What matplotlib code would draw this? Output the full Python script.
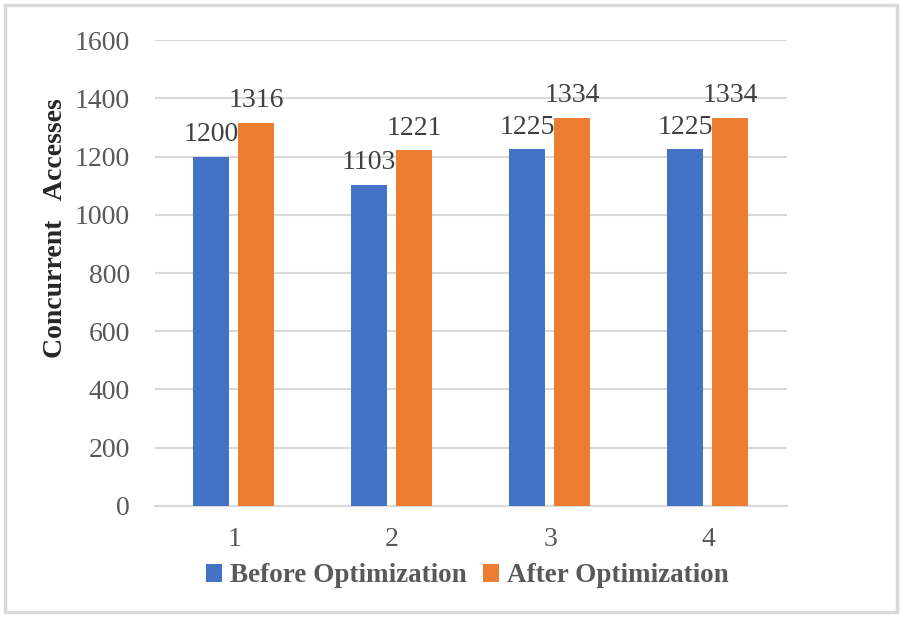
import matplotlib
matplotlib.use('Agg')
import matplotlib.pyplot as plt
import numpy as np
from matplotlib.patches import Rectangle

# data
groups = ['1', '2', '3', '4']
before = [1200, 1103, 1225, 1225]
after = [1316, 1221, 1334, 1334]
yticks = [0, 200, 400, 600, 800, 1000, 1200, 1400, 1600]

plt.rcParams['font.family'] = ['Liberation Serif', 'DejaVu Serif']

fig = plt.figure(figsize=(9.02, 6.17), dpi=100)
ax = fig.add_axes([0.172, 0.180, 0.7005, 0.755])

x = np.arange(len(groups))
w = 0.23
b1 = ax.bar(x - 0.145, before, w, color='#4472C4', label='Before Optimization', zorder=3)
b2 = ax.bar(x + 0.14, after, w, color='#ED7D31', label='After Optimization', zorder=3)

for bars in (b1, b2):
    ax.bar_label(bars, padding=7, fontsize=20, color='#404040')

ax.set_xlim(-0.5, 3.5)
ax.set_ylim(0, 1600)
ax.set_yticks(yticks)
ax.set_xticks(x)
ax.set_xticklabels(groups)
ax.grid(axis='y', color='#D9D9D9', linewidth=1.5, zorder=0)
for s in ['top', 'right', 'left']:
    ax.spines[s].set_visible(False)
ax.spines['bottom'].set_color('#D9D9D9')
ax.spines['bottom'].set_linewidth(1.5)
ax.tick_params(axis='both', length=0, labelsize=20, labelcolor='#595959')
ax.tick_params(axis='y', pad=18)
ax.tick_params(axis='x', pad=15)

fig.text(0.061, 1 - 228 / 617, 'Concurrent   Accesses', rotation=90, ha='center', va='center',
         fontsize=20, fontweight='bold', color='#262626')

leg = fig.legend(handles=[b1, b2], loc='center', bbox_to_anchor=(0.518, 1 - 576 / 617), ncol=2,
                 frameon=False, prop={'size': 19.5, 'weight': 'bold'}, handlelength=0.6,
                 handleheight=0.6, handletextpad=0.3, columnspacing=0.6)
for t in leg.get_texts():
    t.set_color('#595959')

fig.patches.append(Rectangle((0.006, 0.008), 0.988, 0.984, transform=fig.transFigure,
                             fill=False, edgecolor='#D9D9D9', linewidth=2.5))

fig.savefig('out.png', dpi=100)
